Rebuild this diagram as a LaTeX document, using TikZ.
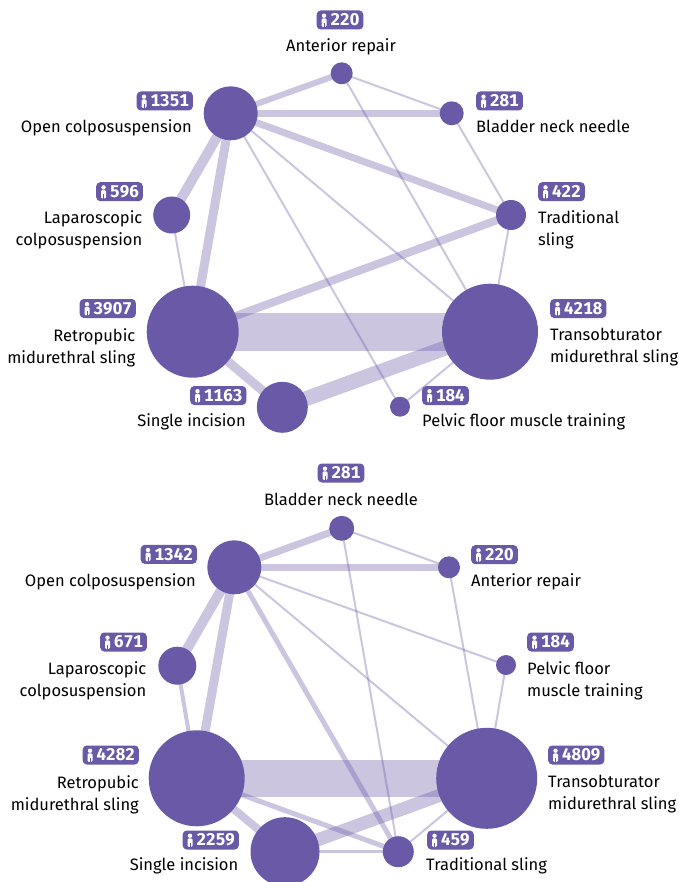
\documentclass[tikz,border=0pt]{standalone}
\usepackage{fontspec}
\setmainfont{Fira Sans}
\newfontfamily\badgefont[Numbers=Monospaced]{Fira Sans}
\usetikzlibrary{backgrounds}
\definecolor{netpurple}{HTML}{6A59A6}

\begin{document}
\begin{tikzpicture}[x=1pt, y=-1pt,
	trt/.style={circle, fill=netpurple, inner sep=0pt, minimum size=#1pt},
	link/.style={draw=netpurple, opacity=0.35, line width=#1pt},
	badge/.style={fill=netpurple, text=white, rounded corners=4pt, inner xsep=4pt, inner ysep=0pt, minimum height=19pt, font=\badgefont\fontsize{17}{17}\selectfont\bfseries},
	lbl/.style={inner sep=0pt, font=\fontsize{16.5}{22}\selectfont}]
	\useasboundingbox (0,0) rectangle (678,882);

	\node[trt=22] (ar1) at (341.7,73.3) {};
	\node[trt=54] (oc1) at (230.7,113.3) {};
	\node[trt=24] (bn1) at (451.7,113.3) {};
	\node[trt=37] (lc1) at (171.7,215) {};
	\node[trt=30] (ts1) at (511,215) {};
	\node[trt=92] (rp1) at (192.7,331.7) {};
	\node[trt=96] (to1) at (490,331.7) {};
	\node[trt=51] (si1) at (282.3,407.3) {};
	\node[trt=20] (pf1) at (400,406.7) {};

	\node[badge] (b-ar1) at (340,20) {\hspace*{10pt}220};
	\node[lbl, anchor=base] (l-ar1) at (341,51.5) {Anterior repair};
	\node[badge, anchor=east] (b-oc1) at (193,101) {\hspace*{10pt}1351};
	\node[lbl, anchor=base east] (l-oc1) at (192,133) {Open colposuspension};
	\node[badge, anchor=west] (b-bn1) at (476,101) {\hspace*{10pt}281};
	\node[lbl, anchor=base west] (l-bn1) at (476,133) {Bladder neck needle};
	\node[badge, anchor=east] (b-lc1) at (143,191.7) {\hspace*{10pt}596};
	\node[lbl, anchor=north east, align=right] (l-lc1) at (142.5,210.5) {Laparoscopic\\colposuspension};
	\node[badge, anchor=west] (b-ts1) at (538,191.7) {\hspace*{10pt}422};
	\node[lbl, anchor=north west, align=left] (l-ts1) at (538,210.5) {Traditional\\sling};
	\node[badge, anchor=east] (b-rp1) at (136,308.5) {\hspace*{10pt}3907};
	\node[lbl, anchor=north east, align=right] (l-rp1) at (135.5,328) {Retropubic\\midurethral sling};
	\node[badge, anchor=west] (b-to1) at (550,308.5) {\hspace*{10pt}4218};
	\node[lbl, anchor=north west, align=left] (l-to1) at (550,328) {Transobturator\\midurethral sling};
	\node[badge, anchor=east] (b-si1) at (246.5,395.5) {\hspace*{10pt}1163};
	\node[lbl, anchor=base east] (l-si1) at (246,426.5) {Single incision};
	\node[badge, anchor=west] (b-pf1) at (422,395.5) {\hspace*{10pt}184};
	\node[lbl, anchor=base west] (l-pf1) at (422,426.5) {Pelvic floor muscle training};

	\node[trt=25] (bn2) at (341.7,528.3) {};
	\node[trt=54] (oc2) at (234.3,567.3) {};
	\node[trt=22] (ar2) at (449,567.3) {};
	\node[trt=38] (lc2) at (177.3,665.7) {};
	\node[trt=20] (pf2) at (506,665) {};
	\node[trt=96] (rp2) at (196.7,778.3) {};
	\node[trt=101] (to2) at (486.7,778.3) {};
	\node[trt=69] (si2) at (285,851.7) {};
	\node[trt=31] (ts2) at (398.3,851.7) {};

	\node[badge] (b-bn2) at (341,473) {\hspace*{10pt}281};
	\node[lbl, anchor=base] (l-bn2) at (341,505) {Bladder neck needle};
	\node[badge, anchor=east] (b-oc2) at (197,554.3) {\hspace*{10pt}1342};
	\node[lbl, anchor=base east] (l-oc2) at (196,586) {Open colposuspension};
	\node[badge, anchor=west] (b-ar2) at (471,554.7) {\hspace*{10pt}220};
	\node[lbl, anchor=base west] (l-ar2) at (471,586) {Anterior repair};
	\node[badge, anchor=east] (b-lc2) at (147,642) {\hspace*{10pt}671};
	\node[lbl, anchor=north east, align=right] (l-lc2) at (146.5,661.5) {Laparoscopic\\colposuspension};
	\node[badge, anchor=west] (b-pf2) at (527,642) {\hspace*{10pt}184};
	\node[lbl, anchor=north west, align=left] (l-pf2) at (527,661.5) {Pelvic floor\\muscle training};
	\node[badge, anchor=east] (b-rp2) at (139,755) {\hspace*{10pt}4282};
	\node[lbl, anchor=north east, align=right] (l-rp2) at (139,775) {Retropubic\\midurethral sling};
	\node[badge, anchor=west] (b-to2) at (548,755) {\hspace*{10pt}4809};
	\node[lbl, anchor=north west, align=left] (l-to2) at (548,775) {Transobturator\\midurethral sling};
	\node[badge, anchor=east] (b-si2) at (239,840) {\hspace*{10pt}2259};
	\node[lbl, anchor=base east] (l-si2) at (238.5,870.5) {Single incision};
	\node[badge, anchor=west] (b-ts2) at (427,840) {\hspace*{10pt}459};
	\node[lbl, anchor=base west] (l-ts2) at (426,870.5) {Traditional sling};

	\foreach \b in {b-ar1,b-oc1,b-bn1,b-lc1,b-ts1,b-rp1,b-to1,b-si1,b-pf1,b-bn2,b-oc2,b-ar2,b-lc2,b-pf2,b-rp2,b-to2,b-si2,b-ts2} {
		\fill[white] ([xshift=7.5pt, yshift=4.3pt]\b.west) circle (2.2pt);
		\fill[white, rounded corners=1.2pt] ([xshift=5pt, yshift=1.6pt]\b.west) rectangle ([xshift=10pt, yshift=-6.8pt]\b.west);
		\draw[netpurple, line width=0.8pt] ([xshift=7.5pt, yshift=-7pt]\b.west) -- ([xshift=7.5pt, yshift=-2.6pt]\b.west);
	}

	\begin{pgfonlayer}{background}
	\draw[link=6] (oc1.center) -- (ar1.center);
	\draw[link=7] (oc1.center) -- (bn1.center);
	\draw[link=2] (ar1.center) -- (bn1.center);
	\draw[link=7] (oc1.center) -- (ts1.center);
	\draw[link=10] (oc1.center) -- (lc1.center);
	\draw[link=9] (oc1.center) -- (rp1.center);
	\draw[link=2] (oc1.center) -- (pf1.center);
	\draw[link=2] (oc1.center) -- (to1.center);
	\draw[link=2] (ar1.center) -- (to1.center);
	\draw[link=2] (bn1.center) -- (ts1.center);
	\draw[link=2] (lc1.center) -- (rp1.center);
	\draw[link=8] (ts1.center) -- (rp1.center);
	\draw[link=2] (ts1.center) -- (to1.center);
	\draw[link=38] (rp1.center) -- (to1.center);
	\draw[link=9] (rp1.center) -- (si1.center);
	\draw[link=15] (si1.center) -- (to1.center);
	\draw[link=2] (pf1.center) -- (to1.center);

	\draw[link=7] (oc2.center) -- (bn2.center);
	\draw[link=7] (oc2.center) -- (ar2.center);
	\draw[link=2] (bn2.center) -- (ar2.center);
	\draw[link=2] (bn2.center) -- (ts2.center);
	\draw[link=10] (oc2.center) -- (lc2.center);
	\draw[link=9] (oc2.center) -- (rp2.center);
	\draw[link=5] (oc2.center) -- (ts2.center);
	\draw[link=2] (oc2.center) -- (to2.center);
	\draw[link=2] (oc2.center) -- (pf2.center);
	\draw[link=2] (ar2.center) -- (to2.center);
	\draw[link=2] (pf2.center) -- (to2.center);
	\draw[link=4] (lc2.center) -- (rp2.center);
	\draw[link=37] (rp2.center) -- (to2.center);
	\draw[link=8] (rp2.center) -- (si2.center);
	\draw[link=5] (rp2.center) -- (ts2.center);
	\draw[link=13] (si2.center) -- (to2.center);
	\draw[link=3] (si2.center) -- (ts2.center);
	\draw[link=2] (ts2.center) -- (to2.center);
	\end{pgfonlayer}
\end{tikzpicture}
\end{document}
